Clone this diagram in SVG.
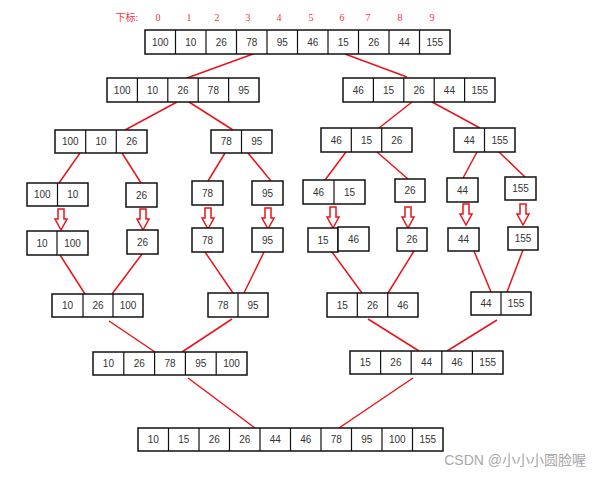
<svg xmlns="http://www.w3.org/2000/svg" width="602" height="478" viewBox="0 0 602 478">
<style>
.b{fill:#fff;stroke:#111;stroke-width:1.5}
.d{stroke:#111;stroke-width:1.2}
.t{font-family:"Liberation Sans",Arial,sans-serif;font-size:10px;fill:#333;text-anchor:middle}
.i{font-family:"Liberation Serif","Noto Sans CJK SC",serif;font-size:10px;fill:#ee3344;text-anchor:middle}
.c{stroke:#e8141c;stroke-width:1.5;fill:none}
.a{stroke:#e8141c;stroke-width:1.5;fill:#fff;stroke-linejoin:miter}
</style>
<defs>
<path id="arr" d="M-3,0 H3 V10 H6 L0,21 L-6,10 H-3 Z"/>
</defs>
<rect width="602" height="478" fill="#fff"/>
<g id="index-labels">
<text class="i" x="127" y="21" font-family="Noto Sans CJK SC">下标:</text>
<text class="i" x="158" y="21">0</text><text class="i" x="189" y="21">1</text><text class="i" x="217" y="21">2</text><text class="i" x="248" y="21">3</text><text class="i" x="279" y="21">4</text><text class="i" x="311" y="21">5</text><text class="i" x="342" y="21">6</text><text class="i" x="368" y="21">7</text><text class="i" x="400" y="21">8</text><text class="i" x="432" y="21">9</text>
</g>
<g id="connectors">
<line class="c" x1="253" y1="54" x2="187" y2="78"/>
<line class="c" x1="345" y1="54" x2="407" y2="77"/>
<line class="c" x1="177" y1="102" x2="125" y2="130"/>
<line class="c" x1="189" y1="102" x2="233" y2="130"/>
<line class="c" x1="412" y1="102" x2="379" y2="128"/>
<line class="c" x1="432" y1="102" x2="480" y2="128"/>
<line class="c" x1="80" y1="153" x2="59" y2="183"/>
<line class="c" x1="122" y1="153" x2="141" y2="183"/>
<line class="c" x1="225" y1="153" x2="208" y2="181"/>
<line class="c" x1="248" y1="153" x2="271" y2="181"/>
<line class="c" x1="346" y1="152" x2="325" y2="180"/>
<line class="c" x1="377" y1="152" x2="408" y2="179"/>
<line class="c" x1="477" y1="152" x2="463" y2="178"/>
<line class="c" x1="499" y1="152" x2="525" y2="177"/>
<line class="c" x1="60" y1="255" x2="85" y2="294"/>
<line class="c" x1="142" y1="254" x2="112" y2="294"/>
<line class="c" x1="205" y1="252" x2="233" y2="293"/>
<line class="c" x1="264" y1="252" x2="244" y2="293"/>
<line class="c" x1="332" y1="252" x2="362" y2="293"/>
<line class="c" x1="414" y1="251" x2="388" y2="293"/>
<line class="c" x1="474" y1="251" x2="491" y2="292"/>
<line class="c" x1="523" y1="250" x2="507" y2="292"/>
<line class="c" x1="109" y1="321" x2="155" y2="352"/>
<line class="c" x1="232" y1="319" x2="182" y2="352"/>
<line class="c" x1="368" y1="319" x2="419" y2="351"/>
<line class="c" x1="497" y1="320" x2="447" y2="351"/>
<line class="c" x1="188" y1="378" x2="255" y2="428"/>
<line class="c" x1="413" y1="378" x2="339" y2="428"/>
<use href="#arr" class="a" x="61" y="209"/>
<use href="#arr" class="a" x="143" y="209"/>
<use href="#arr" class="a" x="208" y="208"/>
<use href="#arr" class="a" x="268" y="208"/>
<use href="#arr" class="a" x="333" y="207"/>
<use href="#arr" class="a" x="408" y="207"/>
<use href="#arr" class="a" x="466" y="204"/>
<use href="#arr" class="a" x="523" y="204"/>
</g>
<g id="top">
<rect class="b" x="145" y="30" width="305" height="24"/>
<path class="d" d="M175.5,30V54M206,30V54M236.5,30V54M267,30V54M297.5,30V54M328,30V54M358.5,30V54M389,30V54M419.5,30V54"/>
<text class="t" x="160.25" y="45.5">100</text><text class="t" x="190.75" y="45.5">10</text><text class="t" x="221.25" y="45.5">26</text><text class="t" x="251.75" y="45.5">78</text><text class="t" x="282.25" y="45.5">95</text><text class="t" x="312.75" y="45.5">46</text><text class="t" x="343.25" y="45.5">15</text><text class="t" x="373.75" y="45.5">26</text><text class="t" x="404.25" y="45.5">44</text><text class="t" x="434.75" y="45.5">155</text>
</g>
<g id="l2a">
<rect class="b" x="107" y="78" width="152" height="24"/>
<path class="d" d="M137.4,78V102M167.8,78V102M198.2,78V102M228.6,78V102"/>
<text class="t" x="122.2" y="93.5">100</text><text class="t" x="152.6" y="93.5">10</text><text class="t" x="183" y="93.5">26</text><text class="t" x="213.4" y="93.5">78</text><text class="t" x="243.8" y="93.5">95</text>
</g>
<g id="l2b">
<rect class="b" x="343" y="78" width="152" height="24"/>
<path class="d" d="M373.4,78V102M403.8,78V102M434.2,78V102M464.6,78V102"/>
<text class="t" x="358.2" y="93.5">46</text><text class="t" x="388.6" y="93.5">15</text><text class="t" x="419" y="93.5">26</text><text class="t" x="449.4" y="93.5">44</text><text class="t" x="479.8" y="93.5">155</text>
</g>
<g id="l3a">
<rect class="b" x="55" y="130" width="92" height="23"/>
<path class="d" d="M85.7,130V153M116.3,130V153"/>
<text class="t" x="70.3" y="145">100</text><text class="t" x="101" y="145">10</text><text class="t" x="131.7" y="145">26</text>
</g>
<g id="l3b">
<rect class="b" x="211" y="130" width="61" height="23"/>
<path class="d" d="M241.5,130V153"/>
<text class="t" x="226.3" y="145">78</text><text class="t" x="256.8" y="145">95</text>
</g>
<g id="l3c">
<rect class="b" x="321" y="128" width="91" height="24"/>
<path class="d" d="M351.3,128V152M381.7,128V152"/>
<text class="t" x="336.2" y="143.5">46</text><text class="t" x="366.5" y="143.5">15</text><text class="t" x="396.8" y="143.5">26</text>
</g>
<g id="l3d">
<rect class="b" x="454" y="128" width="61" height="24"/>
<path class="d" d="M484.5,128V152"/>
<text class="t" x="469.3" y="143.5">44</text><text class="t" x="499.8" y="143.5">155</text>
</g>
<g id="l4a">
<rect class="b" x="27" y="183" width="61" height="23"/>
<path class="d" d="M57.5,183V206"/>
<text class="t" x="42.3" y="198">100</text><text class="t" x="72.8" y="198">10</text>
</g>
<g id="l4b"><rect class="b" x="126" y="183" width="31" height="24"/><text class="t" x="141.5" y="198.5">26</text></g>
<g id="l4c"><rect class="b" x="192" y="181" width="31" height="24"/><text class="t" x="207.5" y="196.5">78</text></g>
<g id="l4d"><rect class="b" x="252" y="181" width="31" height="24"/><text class="t" x="267.5" y="196.5">95</text></g>
<g id="l4e">
<rect class="b" x="303" y="180" width="62" height="24"/>
<path class="d" d="M334,180V204"/>
<text class="t" x="318.5" y="195.5">46</text><text class="t" x="349.5" y="195.5">15</text>
</g>
<g id="l4f"><rect class="b" x="395" y="179" width="30" height="23"/><text class="t" x="410" y="194">26</text></g>
<g id="l4g"><rect class="b" x="447" y="178" width="31" height="24"/><text class="t" x="462.5" y="193.5">44</text></g>
<g id="l4h"><rect class="b" x="505" y="177" width="31" height="23"/><text class="t" x="520.5" y="192">155</text></g>
<g id="l5a">
<rect class="b" x="27" y="231" width="61" height="24"/>
<path class="d" d="M57,231V255"/>
<text class="t" x="42" y="246.5">10</text><text class="t" x="72.5" y="246.5">100</text>
</g>
<g id="l5b"><rect class="b" x="127" y="230" width="31" height="24"/><text class="t" x="142.5" y="245.5">26</text></g>
<g id="l5c"><rect class="b" x="192" y="228" width="31" height="24"/><text class="t" x="207.5" y="243.5">78</text></g>
<g id="l5d"><rect class="b" x="252" y="228" width="31" height="24"/><text class="t" x="267.5" y="243.5">95</text></g>
<g id="l5e">
<rect class="b" x="308" y="228" width="30" height="24"/>
<rect class="b" x="338" y="227" width="31" height="24"/>
<text class="t" x="323" y="243.5">15</text><text class="t" x="353.5" y="242.5">46</text>
</g>
<g id="l5f"><rect class="b" x="397" y="228" width="30" height="23"/><text class="t" x="412" y="243">26</text></g>
<g id="l5g"><rect class="b" x="448" y="228" width="31" height="23"/><text class="t" x="463.5" y="243">44</text></g>
<g id="l5h"><rect class="b" x="508" y="227" width="30" height="23"/><text class="t" x="523" y="242">155</text></g>
<g id="l6a">
<rect class="b" x="52" y="294" width="91" height="23"/>
<path class="d" d="M83,294V317M113,294V317"/>
<text class="t" x="67.5" y="309">10</text><text class="t" x="98" y="309">26</text><text class="t" x="128" y="309">100</text>
</g>
<g id="l6b">
<rect class="b" x="208" y="293" width="60" height="24"/>
<path class="d" d="M238,293V317"/>
<text class="t" x="223" y="308.5">78</text><text class="t" x="253" y="308.5">95</text>
</g>
<g id="l6c">
<rect class="b" x="327" y="293" width="91" height="24"/>
<path class="d" d="M357.3,293V317M387.7,293V317"/>
<text class="t" x="342.2" y="308.5">15</text><text class="t" x="372.5" y="308.5">26</text><text class="t" x="402.8" y="308.5">46</text>
</g>
<g id="l6d">
<rect class="b" x="471" y="292" width="60" height="23"/>
<path class="d" d="M501,292V315"/>
<text class="t" x="486" y="307">44</text><text class="t" x="516" y="307">155</text>
</g>
<g id="l7a">
<rect class="b" x="93" y="352" width="154" height="23"/>
<path class="d" d="M123.8,352V375M154.6,352V375M185.4,352V375M216.2,352V375"/>
<text class="t" x="108.4" y="367">10</text><text class="t" x="139.2" y="367">26</text><text class="t" x="170" y="367">78</text><text class="t" x="200.8" y="367">95</text><text class="t" x="231.6" y="367">100</text>
</g>
<g id="l7b">
<rect class="b" x="350" y="351" width="153" height="23"/>
<path class="d" d="M380.6,351V374M411.2,351V374M441.8,351V374M472.4,351V374"/>
<text class="t" x="365.3" y="366">15</text><text class="t" x="395.9" y="366">26</text><text class="t" x="426.5" y="366">44</text><text class="t" x="457.1" y="366">46</text><text class="t" x="487.7" y="366">155</text>
</g>
<g id="l8">
<rect class="b" x="138" y="428" width="305" height="23"/>
<path class="d" d="M168.5,428V451M199,428V451M229.5,428V451M260,428V451M290.5,428V451M321,428V451M351.5,428V451M382,428V451M412.5,428V451"/>
<text class="t" x="153.25" y="443">10</text><text class="t" x="183.75" y="443">15</text><text class="t" x="214.25" y="443">26</text><text class="t" x="244.75" y="443">26</text><text class="t" x="275.25" y="443">44</text><text class="t" x="305.75" y="443">46</text><text class="t" x="336.25" y="443">78</text><text class="t" x="366.75" y="443">95</text><text class="t" x="397.25" y="443">100</text><text class="t" x="427.75" y="443">155</text>
</g>
<text x="586" y="465" text-anchor="end" font-family="Liberation Sans,'Noto Sans CJK SC',sans-serif" font-size="14" fill="#a8a8a8">CSDN @小小小圆脸喔</text>
</svg>
